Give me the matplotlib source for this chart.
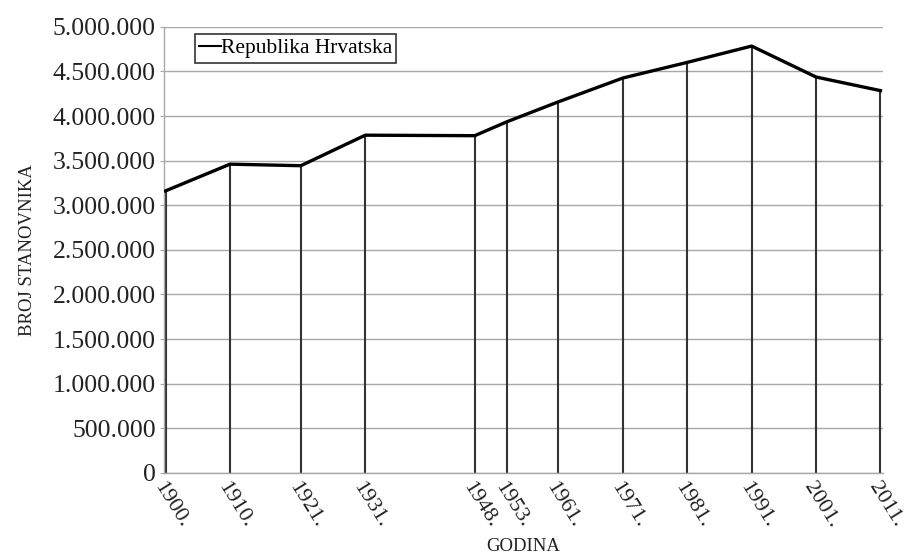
import matplotlib
matplotlib.use("Agg")
import matplotlib.pyplot as plt
from matplotlib.ticker import FuncFormatter

# popisi stanovnistva
godine = [1900, 1910, 1921, 1931, 1948, 1953, 1961, 1971, 1981, 1991, 2001, 2011]
stanovnici = [3161456, 3460584, 3443375, 3785455, 3779858, 3936022,
              4159696, 4426221, 4601469, 4784265, 4437460, 4284889]
oznake = [str(g) + "." for g in godine]
y_ticks = list(range(0, 5000001, 500000))

plt.rcParams['font.family'] = ['Liberation Serif', 'DejaVu Serif']

fig = plt.figure(figsize=(9.06, 5.59), dpi=100)
ax = fig.add_axes([0.181, 0.154, 0.794, 0.798])

# vodoravna mreza
ax.set_axisbelow(True)
ax.yaxis.grid(True, color='#a8a8a8', linewidth=1.0)

# okomite linije do osi
ax.vlines(godine, 0, stanovnici, colors='#333333', linewidth=1.5, zorder=2)
ax.plot(godine, stanovnici, color='black', linewidth=2.4, label='Republika Hrvatska', zorder=3)

ax.set_xlim(1899.75, 2011.45)
ax.set_ylim(0, 5000000)
ax.set_yticks(y_ticks)
ax.yaxis.set_major_formatter(FuncFormatter(lambda v, p: f"{int(v):,}".replace(",", ".")))
ax.set_xticks(godine)
ax.set_xticklabels(oznake, rotation=-58, ha='left', va='top', rotation_mode='anchor')

ax.tick_params(axis='y', labelsize=18.5, length=3, color='#a8a8a8', pad=3, labelcolor='#222222')
ax.tick_params(axis='x', labelsize=16, length=0, pad=4, labelcolor='#222222')

for s in ['top', 'right']:
    ax.spines[s].set_visible(False)
for s in ['left', 'bottom']:
    ax.spines[s].set_color('#a8a8a8')
    ax.spines[s].set_linewidth(1.0)

ax.set_ylabel('BROJ STANOVNIKA', fontsize=13.5, color='#222222', labelpad=12)
ax.set_xlabel('GODINA', fontsize=13.5, color='#222222', labelpad=5)

leg = ax.legend(loc='upper left', bbox_to_anchor=(0.043, 0.984), borderaxespad=0,
                fancybox=False, fontsize=15.5, handlelength=1.0, handletextpad=0.0,
                borderpad=0.2, framealpha=1)
leg.get_frame().set_edgecolor('#333333')
leg.get_frame().set_linewidth(1.2)
for ln in leg.get_lines():
    ln.set_linewidth(1.5)

fig.savefig("out.png", dpi=100)
